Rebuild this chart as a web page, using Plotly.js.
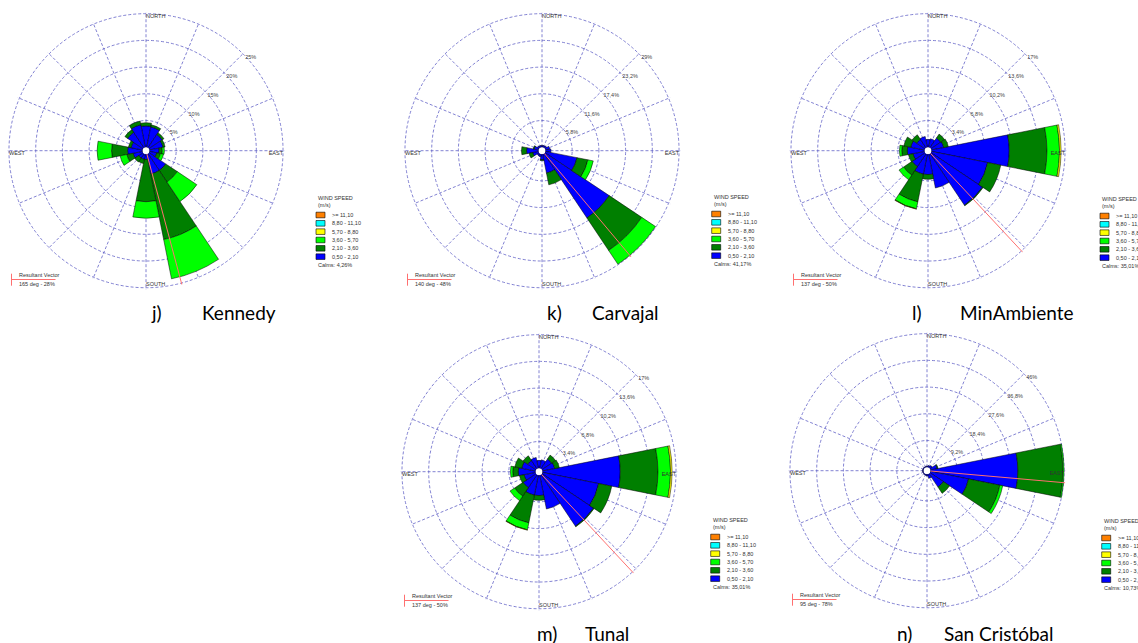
<!DOCTYPE html>
<html><head><meta charset="utf-8">
<script src="https://cdn.plot.ly/plotly-3.0.1.min.js"></script>
<style>html,body{margin:0;padding:0;background:#fff}#chart{width:1138px;height:643px}</style>
</head><body><div id="chart"></div>
<script>
// ---------- DATA ----------
const directions = [0,22.5,45,67.5,90,112.5,135,157.5,180,202.5,225,247.5,270,292.5,315,337.5];
const compassLabels = ['NORTH','EAST','SOUTH','WEST'];
const compassTheta = [0,90,180,270];
const speedLabels = ['0,50 - 2,10','2,10 - 3,60','3,60 - 5,70','5,70 - 8,80','8,80 - 11,10','>= 11,10'];
const speedColors = ['#0000ff','#007f00','#00ff00','#ffff00','#00ffff','#ff8000'];

const stationNames = ['Kennedy','Carvajal','MinAmbiente','Tunal','San Cristóbal'];
const stationLetters = ['j)','k)','l)','m)','n)'];
const calms = ['4,26%','41,17%','35,01%','35,01%','10,73%'];
const resultantDeg = [165,140,137,137,95];
const resultantPct = ['28%','48%','50%','50%','78%'];
const resultantLen = [25.9,37.7,23.6,23.5,47.4];
const radialMax = [25,29,17,17,46];
const radialTickVals = [[5,10,15,20,25],[5.8,11.6,17.4,23.2,29],[3.4,6.8,10.2,13.6,17],[3.4,6.8,10.2,13.6,17],[9.2,18.4,27.6,36.8,46]];
const radialTickText = [['5%','10%','15%','20%','25%'],['5,8%','11,6%','17,4%','23,2%','29%'],['3,4%','6,8%','10,2%','13,6%','17%'],['3,4%','6,8%','10,2%','13,6%','17%'],['9,2%','18,4%','27,6%','36,8%','46%']];

// frequencies (%) per direction (N, NNE, ... NNW) and speed class (m/s)
const kennedy_050_210 = [4.0,3.9,3.0,2.6,1.8,1.4,3.8,3.8,1.0,1.0,1.0,1.8,2.8,2.2,3.5,4.3];
const kennedy_210_360 = [0.6,0.4,0.4,0.4,0.6,0.7,2.6,12.5,7.9,0.8,0.9,1.2,3.0,0.5,0.6,0.7];
const kennedy_360_570 = [0,0,0,0,0.4,0.6,4.4,7.5,3.1,0,0,1.3,2.7,0,0,0];

const carvajal_050_210 = [0.4,0.4,0.5,1.0,1.2,7.0,16.8,4.2,1.2,0.6,0.5,1.3,2.6,1.0,0.5,0.4];
const carvajal_210_360 = [0,0,0,0,0,2.4,8.5,2.6,0.2,0,0,0.8,1.1,0.2,0,0];
const carvajal_360_570 = [0,0,0,0,0,1.2,3.6,0,0,0,0,0,0,0,0,0];

const minambiente_050_210 = [1.0,1.1,1.5,1.6,9.9,7.3,7.9,4.4,2.6,2.6,2.0,1.5,2.2,1.8,1.3,1.4];
const minambiente_210_360 = [0,0,0.6,0.6,4.8,1.7,0.1,0,0.6,3.6,1.3,0.6,0.7,0.9,0.7,0];
const minambiente_360_570 = [0,0,0,0,1.6,0,0,0,0,0.9,0.7,0,0.3,0,0,0];
const minambiente_570_880 = [0,0,0,0,0.2,0,0,0,0,0.05,0,0,0,0,0,0];

const tunal_050_210 = [1.0,1.1,1.5,1.6,9.9,7.3,7.9,4.4,2.6,2.6,2.0,1.5,2.2,1.8,1.3,1.4];
const tunal_210_360 = [0,0,0.6,0.6,4.8,1.7,0.1,0,0.6,3.6,1.3,0.6,0.7,0.9,0.7,0];
const tunal_360_570 = [0,0,0,0,1.6,0,0,0,0,0.9,0.7,0,0.3,0,0,0];
const tunal_570_880 = [0,0,0,0,0.2,0,0,0,0,0.05,0,0,0,0,0,0];

const sancristobal_050_210 = [0.4,0.6,1.0,2.4,30.1,13.4,5.6,1.5,0.6,0.4,0.3,0.3,0.4,0.3,0.3,0.3];
const sancristobal_210_360 = [0,0,0,0.3,15.5,11.0,2.6,0,0,0,0,0,0,0,0,0];
const sancristobal_360_570 = [0,0,0,0,0.4,1.0,0,0,0,0,0,0,0,0,0,0];

const stationSeries = [
  [kennedy_050_210, kennedy_210_360, kennedy_360_570],
  [carvajal_050_210, carvajal_210_360, carvajal_360_570],
  [minambiente_050_210, minambiente_210_360, minambiente_360_570, minambiente_570_880],
  [tunal_050_210, tunal_210_360, tunal_360_570, tunal_570_880],
  [sancristobal_050_210, sancristobal_210_360, sancristobal_360_570]
];

// ---------- LAYOUT GEOMETRY (pixels) ----------
const W = 1138, H = 643, R = 137, PAD = 1.012;
const centers = [[146,150.7],[542,150.7],[928,150.7],[539,471.7],[927,470.7]];
const legendPos = [[316,198],[711.7,197],[1100,199],[710.7,520],[1101.7,521]];
const titlePos = [[149,200,312],[545,590,312],[910,958,312],[535,583,633],[895,942,633]];

const px = x => x / W;
const py = y => 1 - y / H;

const gridColor = '#6262c6';
const smallFont = {family:'Liberation Sans, Arial, sans-serif', size:5.5, color:'#333'};

const traces = [];
const layout = {
  width: W, height: H,
  margin: {l:0, r:0, t:0, b:0},
  paper_bgcolor: '#fff',
  showlegend: false,
  shapes: [], annotations: []
};

stationNames.forEach((name, s) => {
  const sub = s === 0 ? 'polar' : 'polar' + (s + 1);
  const [cx, cy] = centers[s];
  const RR = R * PAD;
  layout[sub] = {
    domain: {x: [px(cx - RR), px(cx + RR)], y: [py(cy + RR), py(cy - RR)]},
    bgcolor: '#fff',
    hole: 0.025,
    bargap: 0,
    barmode: 'stack',
    angularaxis: {
      rotation: 90, direction: 'clockwise',
      tickmode: 'array', tickvals: directions,
      showticklabels: false, ticks: '',
      showline: false,
      gridcolor: gridColor, gridwidth: 0.8, griddash: '3px,2px',
      layer: 'below traces'
    },
    radialaxis: {
      range: [0, radialMax[s] * PAD],
      tickmode: 'array', tickvals: radialTickVals[s], ticktext: radialTickText[s],
      angle: 45, side: 'clockwise', tickangle: 45,
      showline: false, ticks: '',
      gridcolor: gridColor, gridwidth: 0.8, griddash: '3px,2px',
      tickfont: {family:'Liberation Sans, Arial, sans-serif', size:5.5, color:'#444'},
      layer: 'below traces'
    }
  };

  stationSeries[s].forEach((vals, k) => {
    traces.push({
      type: 'barpolar', subplot: sub,
      r: vals.map(v => v > 0 ? v : null), theta: directions,
      name: speedLabels[k],
      marker: {color: speedColors[k], line: {color: '#000', width: 0.5}},
      hoverinfo: 'skip'
    });
  });

  // compass labels
  traces.push({
    type: 'scatterpolar', subplot: sub, mode: 'text',
    r: compassTheta.map(() => radialMax[s]),
    theta: compassTheta,
    text: compassLabels,
    textposition: ['bottom right','bottom left','top right','bottom right'],
    textfont: {family:'Liberation Sans, Arial, sans-serif', size:5.5, color:'#333'},
    cliponaxis: false, hoverinfo: 'skip'
  });

  // resultant vector
  traces.push({
    type: 'scatterpolar', subplot: sub, mode: 'lines',
    r: [0, resultantLen[s]], theta: [resultantDeg[s], resultantDeg[s]],
    line: {color: '#ff7070', width: 1},
    cliponaxis: false, hoverinfo: 'skip'
  });

  // legend (drawn by hand: swatches + labels)
  const [lx, ly] = legendPos[s];
  layout.annotations.push({xref:'paper', yref:'paper', x: px(lx), y: py(ly), xanchor:'left', yanchor:'middle',
    text: 'WIND SPEED', showarrow:false, font: smallFont});
  layout.annotations.push({xref:'paper', yref:'paper', x: px(lx), y: py(ly + 7), xanchor:'left', yanchor:'middle',
    text: '(m/s)', showarrow:false, font: smallFont});
  for (let row = 0; row < 6; row++) {
    const k = 5 - row;
    const yc = ly + 17 + 8.33 * row;
    layout.shapes.push({type:'rect', xref:'paper', yref:'paper',
      x0: px(lx), x1: px(lx + 9), y0: py(yc + 2.8), y1: py(yc - 2.8),
      fillcolor: speedColors[k], line: {color:'#000', width:0.6}});
    layout.annotations.push({xref:'paper', yref:'paper', x: px(lx + 14), y: py(yc), xanchor:'left', yanchor:'middle',
      text: speedLabels[k], showarrow:false, font: smallFont});
  }
  layout.annotations.push({xref:'paper', yref:'paper', x: px(lx), y: py(ly + 67), xanchor:'left', yanchor:'middle',
    text: 'Calms: ' + calms[s], showarrow:false, font: smallFont});

  // resultant vector key
  const bx = cx - 134.5, by = cy + 123;
  layout.shapes.push({type:'line', xref:'paper', yref:'paper', x0: px(bx), x1: px(bx), y0: py(by), y1: py(by + 12),
    line: {color:'#ff7070', width:1}});
  layout.shapes.push({type:'line', xref:'paper', yref:'paper', x0: px(bx), x1: px(bx + 44), y0: py(by + 5.8), y1: py(by + 5.8),
    line: {color:'#ff7070', width:1}});
  layout.annotations.push({xref:'paper', yref:'paper', x: px(bx + 5.5), y: py(by + 1.5), xanchor:'left', yanchor:'middle',
    text: 'Resultant Vector', showarrow:false, font: smallFont});
  layout.annotations.push({xref:'paper', yref:'paper', x: px(bx + 5.5), y: py(by + 10.5), xanchor:'left', yanchor:'middle',
    text: resultantDeg[s] + ' deg - ' + resultantPct[s], showarrow:false, font: smallFont});

  // station caption
  const [tx1, tx2, ty] = titlePos[s];
  layout.annotations.push({xref:'paper', yref:'paper', x: px(tx1), y: py(ty), xanchor:'left', yanchor:'middle',
    text: stationLetters[s], showarrow:false, font: {family:'Lato, sans-serif', size:19, color:'#000'}});
  layout.annotations.push({xref:'paper', yref:'paper', x: px(tx2), y: py(ty), xanchor:'left', yanchor:'middle',
    text: name, showarrow:false, font: {family:'Lato, sans-serif', size:19, color:'#000'}});
});

Plotly.newPlot('chart', traces, layout, {displayModeBar:false, staticPlot:true});
</script>
</body></html>
